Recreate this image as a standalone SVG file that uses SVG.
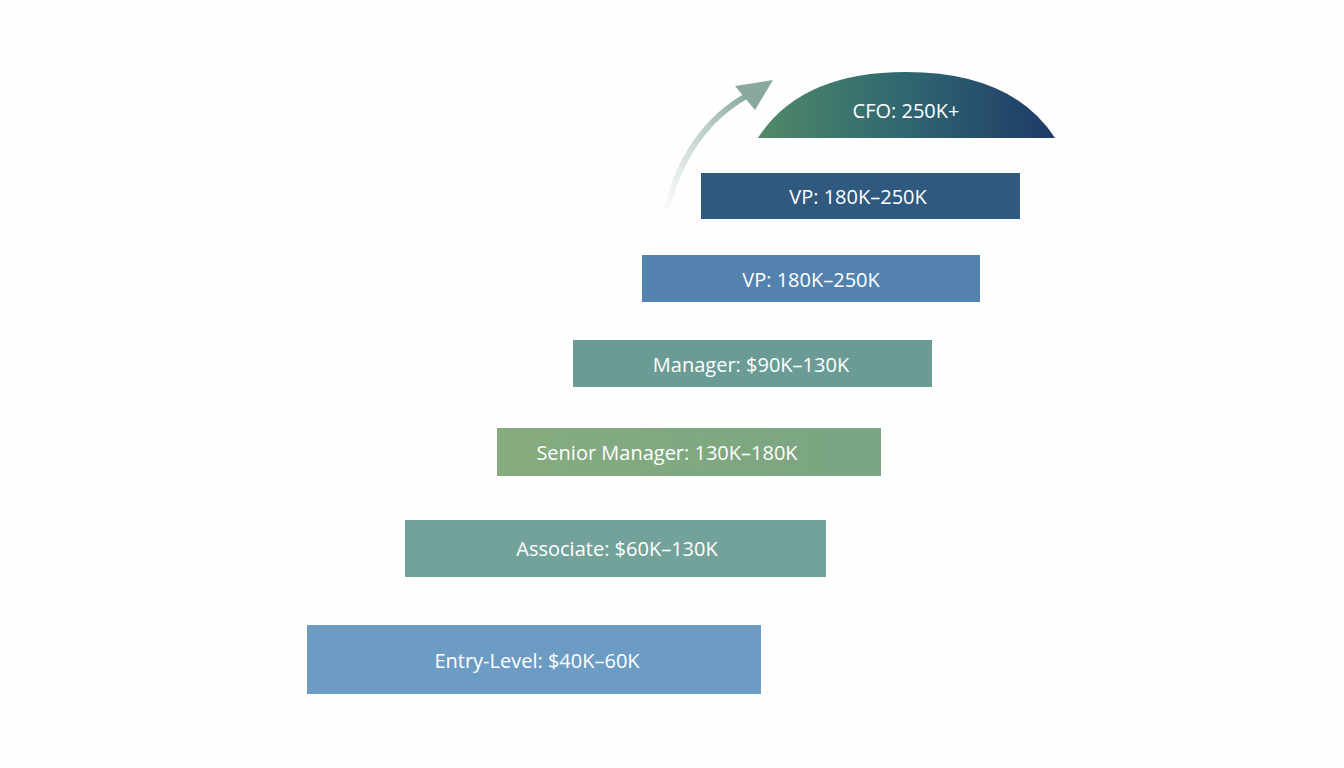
<svg xmlns="http://www.w3.org/2000/svg" width="1344" height="768" viewBox="0 0 1344 768">
<style>
text{font-family:"Open Sans","Noto Sans",sans-serif;font-size:20px;fill:#fff;text-anchor:middle;dominant-baseline:central}
</style>
<defs>
<linearGradient id="cfo" x1="0" y1="0" x2="1" y2="0"><stop offset="0" stop-color="#4f8a68"/><stop offset="0.5" stop-color="#2f6670"/><stop offset="1" stop-color="#1e3a68"/></linearGradient>
<linearGradient id="arr" x1="0" y1="1" x2="1" y2="0"><stop offset="0" stop-color="#9fb8b0" stop-opacity="0"/><stop offset="1" stop-color="#86a89c"/></linearGradient>
<linearGradient id="sm" x1="0" y1="0" x2="1" y2="0"><stop offset="0" stop-color="#86ab7e"/><stop offset="1" stop-color="#7aa583"/></linearGradient>
</defs>
<rect width="1344" height="768" fill="#fefefe"/>
<g id="connectors">
<path d="M665,215 Q685,130 748,95" fill="none" stroke="url(#arr)" stroke-width="6"/>
<polygon points="773,80 735,86 755,110" fill="#8aa99e"/>
</g>
<g id="cfo"><path d="M758,138 Q800,72 906,72 Q1012,72 1055,138 Z" fill="url(#cfo)"/><text x="906" y="110">CFO: 250K+</text></g>
<g id="vp2"><rect x="701" y="173" width="319" height="46" fill="#30597f"/><text x="858" y="196">VP: 180K–250K</text></g>
<g id="vp1"><rect x="642" y="255" width="338" height="47" fill="#5482ae"/><text x="811" y="279">VP: 180K–250K</text></g>
<g id="manager"><rect x="573" y="340" width="359" height="47" fill="#6a9c95"/><text x="751" y="364">Manager: $90K–130K</text></g>
<g id="senior"><rect x="497" y="428" width="384" height="48" fill="url(#sm)"/><text x="667" y="452">Senior Manager: 130K–180K</text></g>
<g id="associate"><rect x="405" y="520" width="421" height="57" fill="#73a29b"/><text x="617" y="548">Associate: $60K–130K</text></g>
<g id="entry"><rect x="307" y="625" width="454" height="69" fill="#6c9cc3"/><text x="537" y="660">Entry-Level: $40K–60K</text></g>
</svg>
